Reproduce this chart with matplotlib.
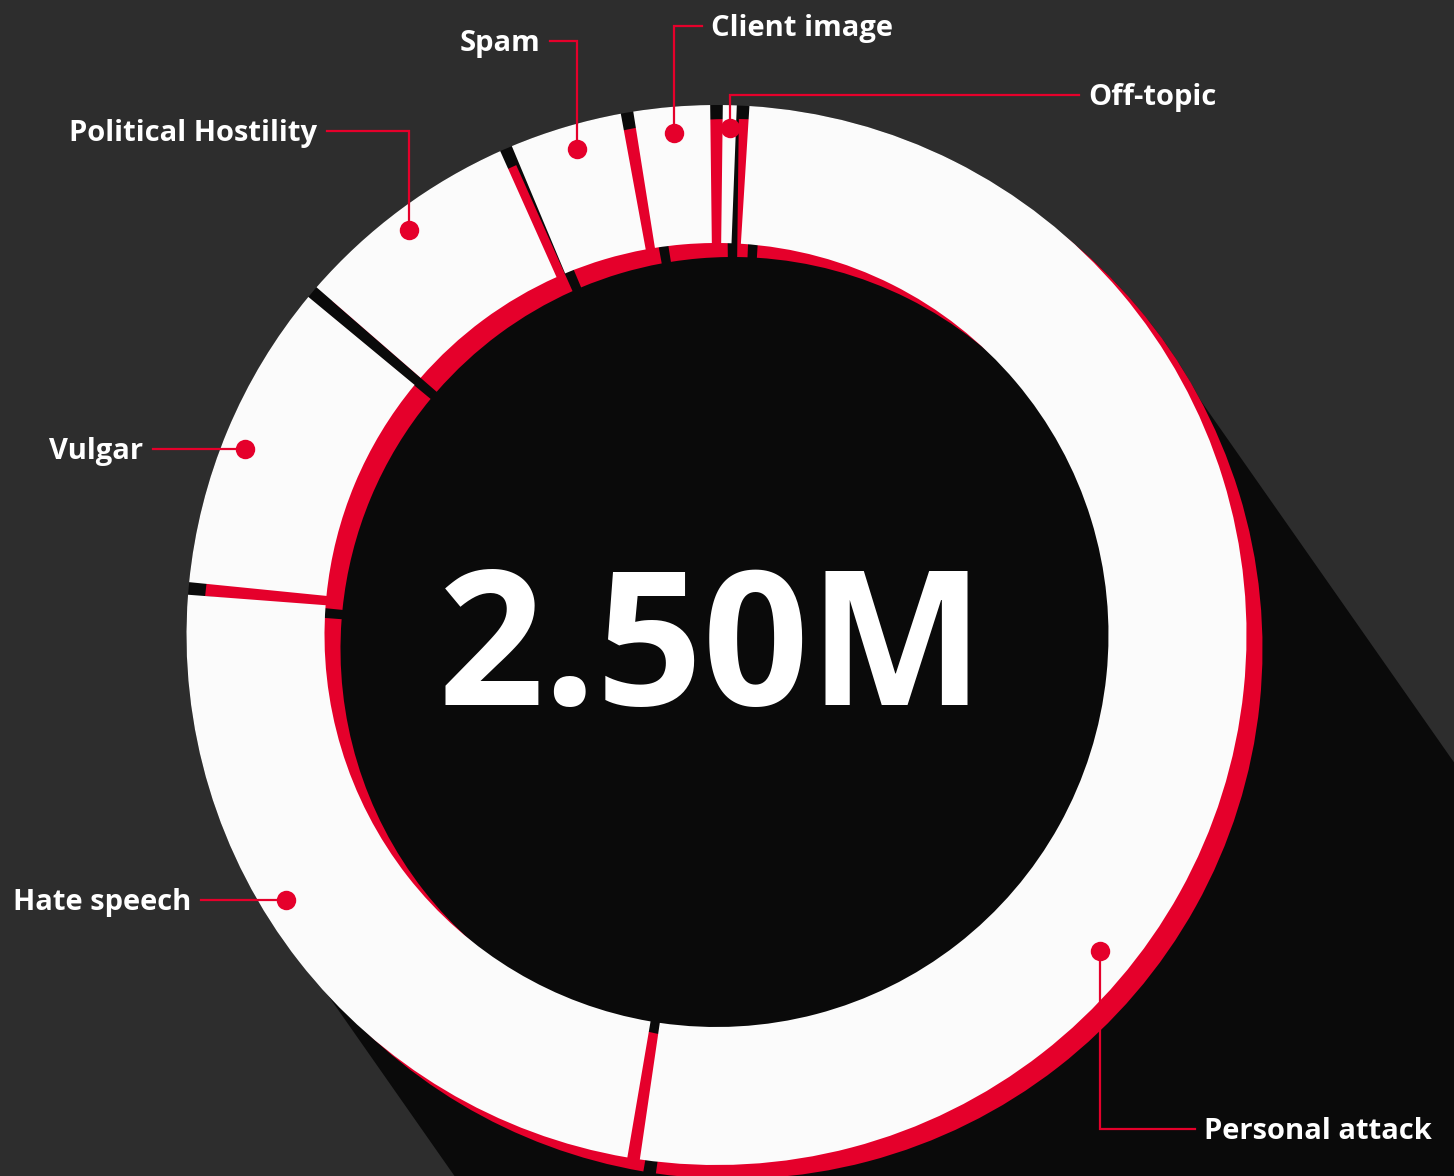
"""
Toxic comment breakdown – donut chart with long shadow
"""

import numpy as np
import matplotlib.pyplot as plt
from matplotlib.patches import Wedge, Circle, Polygon

# -----------------------------
# DATA (clockwise from 12 o'clock)
# -----------------------------
CATEGORIES = ["Off-topic", "Personal attack", "Hate speech", "Vulgar",
              "Political Hostility", "Spam", "Client image"]
SHARES = [0.8, 51.7, 23.9, 9.8, 7.3, 3.8, 2.7]   # percent of total
TOTAL_LABEL = "2.50M"

# -----------------------------
# STYLE / LAYOUT (pixel space)
# -----------------------------
W, H = 1454, 1176
BG = "#2d2d2d"
SHADOW = "#0a0a0a"
RED = "#e5002b"
WHITE = "#fbfbfb"
FONT = "Open Sans"

CENTER = (716.5, 635.0)
OFFSET = (16.0, 14.0)          # red layer shift (right, down)
R_OUT, R_IN = 530.0, 392.0
GAP_PX = 11.0
SHADOW_ANGLE = 55.0            # degrees below horizontal

# dot angle on the ring (deg clockwise from top), dot radius
DOT_ANGLE = [1.5, 129.5, 238.4, 291.5, 322.8, 344.0, 355.2]
DOT_R = [507, 497, 506, 507, 508, 506, 504]
# label y, text x, horizontal alignment
LABEL_Y = [95, 1129, 900, 449, 131, 41, 26]
LABEL_X = [1088, 1204, 191, 143, 317, 540, 711]
LABEL_HA = ["left", "left", "right", "right", "right", "right", "left"]


def ring_point(center, r, phi):
    a = np.deg2rad(phi)
    return center[0] + r * np.sin(a), center[1] - r * np.cos(a)


fig = plt.figure(figsize=(W / 100, H / 100), dpi=100)
fig.patch.set_facecolor(BG)
ax = fig.add_axes([0, 0, 1, 1])
ax.set_xlim(0, W)
ax.set_ylim(H, 0)
ax.axis("off")
ax.set_facecolor(BG)

red_center = (CENTER[0] + OFFSET[0], CENTER[1] + OFFSET[1])

# -----------------------------
# LONG SHADOW
# -----------------------------
t = np.deg2rad(SHADOW_ANGLE)
d = np.array([np.cos(t), np.sin(t)])
n = np.array([np.sin(t), -np.cos(t)])
rc = np.array(red_center)
A, B = rc + (R_OUT - 4) * n, rc - R_OUT * n
ax.add_patch(Polygon([A, A + 3000 * d, B + 3000 * d, B], closed=True,
                     facecolor=SHADOW, edgecolor="none", zorder=1))
ax.add_patch(Circle(red_center, R_OUT, facecolor=SHADOW, edgecolor="none", zorder=1))
ax.add_patch(Circle(CENTER, R_OUT, facecolor=SHADOW, edgecolor="none", zorder=1))

# -----------------------------
# RING (red copy behind, white on top)
# -----------------------------
bounds = np.concatenate([[0], np.cumsum(SHARES)]) / np.sum(SHARES) * 360.0
half_gap = np.rad2deg(GAP_PX / ((R_OUT + R_IN) / 2)) / 2

for i in range(len(SHARES)):
    t1 = bounds[i] + half_gap - 90
    t2 = bounds[i + 1] - half_gap - 90
    ax.add_patch(Wedge(red_center, R_OUT, t1, t2, width=R_OUT - R_IN,
                       facecolor=RED, edgecolor="none", zorder=2))
    ax.add_patch(Wedge(CENTER, R_OUT, t1, t2, width=R_OUT - R_IN,
                       facecolor=WHITE, edgecolor="none", zorder=3))

# -----------------------------
# LABELS + LEADERS
# -----------------------------
for i, name in enumerate(CATEGORIES):
    dx, dy = ring_point(CENTER, DOT_R[i], DOT_ANGLE[i])
    ly = LABEL_Y[i]
    end_x = LABEL_X[i] - 9 if LABEL_HA[i] == "left" else LABEL_X[i] + 10
    ax.plot([dx, dx, end_x], [dy, ly, ly], color=RED, lw=1.6,
            solid_joinstyle="miter", zorder=5)
    ax.plot(dx, dy, "o", ms=14, color=RED, mec="none", zorder=6)
    ax.text(LABEL_X[i], ly + 10, name, ha=LABEL_HA[i], va="baseline",
            color="white", fontsize=21, fontweight="bold", family=FONT, zorder=7)

ax.text(711, 705, TOTAL_LABEL, ha="center", va="baseline", color="white",
        fontsize=134, fontweight="bold", family=FONT, zorder=7)

fig.savefig("out.png", dpi=100, facecolor=fig.get_facecolor())
